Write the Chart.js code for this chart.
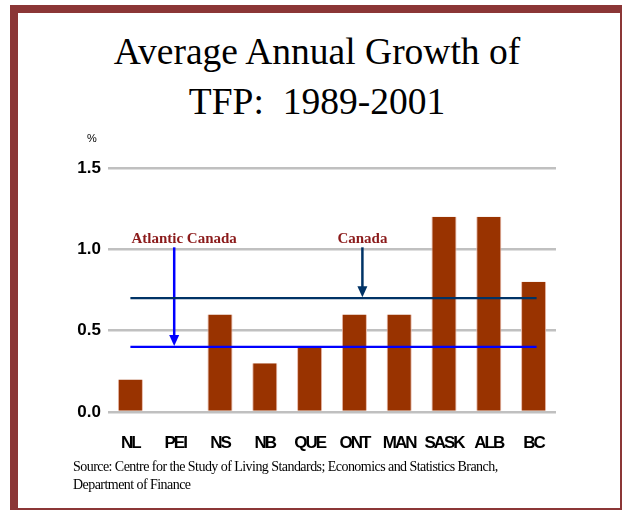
<!DOCTYPE html>
<html>
<head>
<meta charset="utf-8">
<script src="https://cdn.jsdelivr.net/npm/chart.js@4/dist/chart.umd.min.js"></script>
<style>
  html, body { margin: 0; padding: 0; background: #fff; }
  #page { position: relative; width: 622px; height: 510px; overflow: hidden; }
  #frame {
    position: absolute; left: 10px; top: 5px; width: 602px; height: 495px;
    border-style: solid; border-color: #8B3636;
    border-width: 8px 2px 2px 8px;
  }
  .title {
    position: absolute; left: 0; width: 634px; text-align: center;
    font-family: "Liberation Serif", "Times New Roman", serif;
    font-size: 37.5px; color: #000; white-space: pre; line-height: 1;
  }
  .src {
    position: absolute; left: 73px;
    font-family: "Liberation Serif", "Times New Roman", serif;
    font-size: 14px; color: #000; white-space: nowrap;
    letter-spacing: -0.55px; line-height: 1;
  }
  canvas { position: absolute; left: 0; top: 0; }
</style>
</head>
<body>
<div id="page">
  <div id="frame"></div>
  <div class="title" style="top:33px">Average Annual Growth of</div>
  <div class="title" style="top:83px">TFP:  1989-2001</div>
  <canvas id="chart" width="622" height="510"></canvas>
  <div class="src" style="top:460px">Source: Centre for the Study of Living Standards; Economics and Statistics Branch,</div>
  <div class="src" style="top:478px">Department of Finance</div>
</div>
<script>
// Provinces and their average annual TFP growth, 1989-2001 (%)
const provinces = ["NL", "PEI", "NS", "NB", "QUE", "ONT", "MAN", "SASK", "ALB", "BC"];
const tfpGrowth = [0.2, 0.0, 0.6, 0.3, 0.4, 0.6, 0.6, 1.2, 1.2, 0.8];

// Reference averages
const referenceNames = ["Atlantic Canada", "Canada"];
const referenceValues = [0.4, 0.7];
const referenceColors = ["#0000FF", "#003366"];
// Category each reference arrow points down from
const referenceArrowAt = ["PEI", "ONT"];

const yTicks = [0.0, 0.5, 1.0, 1.5];

// Tight, condensed look for the category labels
const condensedLabels = {
  id: "condensedLabels",
  afterLayout(chart) {
    const s = chart.scales.x;
    if (s._condensed) return;
    const orig = s.drawLabels;
    s.drawLabels = function (area) {
      const c = this.ctx;
      const prev = c.letterSpacing;
      c.letterSpacing = "-2px";
      orig.call(this, area);
      c.letterSpacing = prev || "0px";
    };
    s._condensed = true;
  }
};

// Horizontal average lines with labelled arrows
const referencePlugin = {
  id: "referenceLines",
  afterDatasetsDraw(chart) {
    const { ctx, scales: { x, y } } = chart;
    const xStart = x.getPixelForValue(0);
    const xEnd = x.getPixelForValue(provinces.length - 1) + 3;
    const labelY = y.getPixelForValue(1.0) - 10;
    ctx.save();
    referenceValues.forEach((v, i) => {
      const py = y.getPixelForValue(v);
      ctx.strokeStyle = referenceColors[i];
      ctx.lineWidth = 2.2;
      ctx.beginPath();
      ctx.moveTo(xStart, py);
      ctx.lineTo(xEnd, py);
      ctx.stroke();

      // arrow from the label down to the line
      const idx = provinces.indexOf(referenceArrowAt[i]);
      const ax = x.getPixelForValue(idx) + (i === 0 ? -1 : 8);
      const top = labelY + 8;
      const head = 11;
      ctx.lineWidth = 2.5;
      ctx.beginPath();
      ctx.moveTo(ax, top);
      ctx.lineTo(ax, py - head);
      ctx.stroke();
      ctx.fillStyle = referenceColors[i];
      ctx.beginPath();
      ctx.moveTo(ax - 5, py - head - 1);
      ctx.lineTo(ax + 5, py - head - 1);
      ctx.lineTo(ax, py - 1);
      ctx.closePath();
      ctx.fill();

      // label
      ctx.fillStyle = "#8B1A1A";
      ctx.font = "bold 15px 'Liberation Serif', 'Times New Roman', serif";
      ctx.textBaseline = "middle";
      ctx.textAlign = i === 0 ? "left" : "center";
      const lx = i === 0 ? x.getPixelForValue(0) + 1 : ax;
      ctx.fillText(referenceNames[i], lx, labelY);
    });

    // unit label above the value axis
    ctx.fillStyle = "#000";
    ctx.font = "11px 'Liberation Sans', Arial, sans-serif";
    ctx.textAlign = "center";
    ctx.fillText("%", 92, y.getPixelForValue(1.5) - 29);
    ctx.restore();
  }
};

new Chart(document.getElementById("chart"), {
  type: "bar",
  data: {
    labels: provinces,
    datasets: [{
      data: tfpGrowth,
      backgroundColor: "#993300",
      borderColor: "#E8B8A8",
      borderWidth: { left: 1, right: 1, top: 0, bottom: 0 },
      barPercentage: 0.56,
      categoryPercentage: 1.0
    }]
  },
  options: {
    responsive: false,
    animation: false,
    layout: { padding: { left: 0, right: 66, top: 168, bottom: 58 } },
    plugins: { legend: { display: false }, tooltip: { enabled: false }, title: { display: false } },
    scales: {
      x: {
        grid: { display: false },
        border: { display: false },
        ticks: {
          color: "#000",
          padding: 13,
          font: { family: "'Liberation Sans', Arial, sans-serif", size: 17, weight: "bold" },
          maxRotation: 0, autoSkip: false
        },
        afterFit(s) { s.height = 40; }
      },
      y: {
        min: 0, max: 1.5,
        afterBuildTicks(s) { s.ticks = yTicks.map(v => ({ value: v })); },
        grid: { color: "#C0C0C0", lineWidth: 2.5, drawTicks: false },
        border: { display: false },
        ticks: {
          color: "#000",
          padding: 7,
          font: { family: "'Liberation Sans', Arial, sans-serif", size: 17, weight: "bold" },
          callback: v => Number(v).toFixed(1)
        },
        afterFit(s) { s.width = 108; }
      }
    }
  },
  plugins: [condensedLabels, referencePlugin]
});
</script>
</body>
</html>
